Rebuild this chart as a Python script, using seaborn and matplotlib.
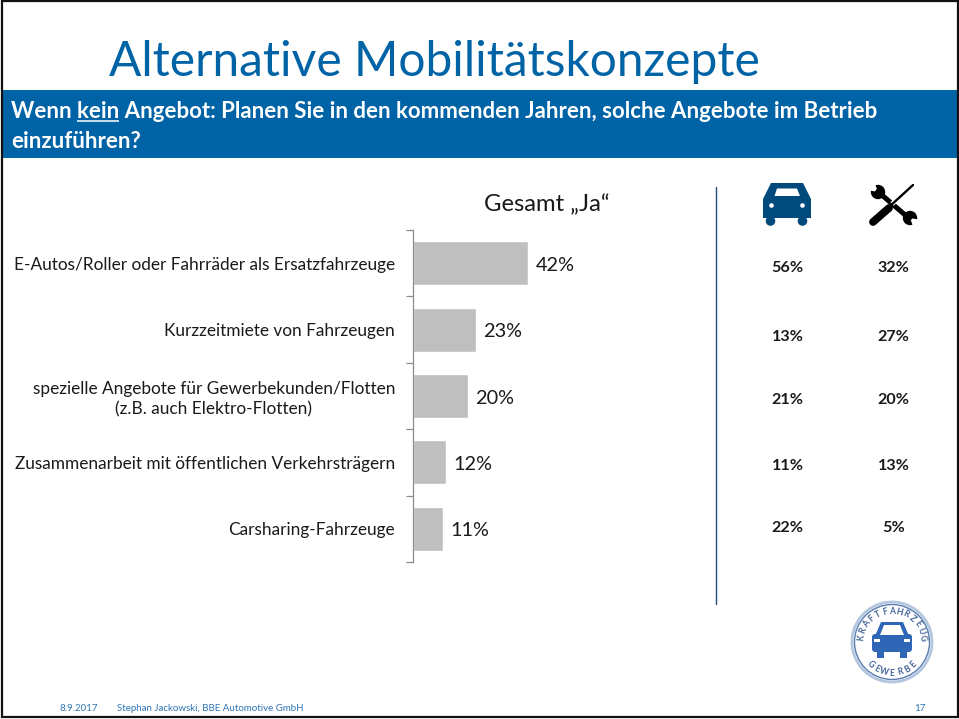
import numpy as np
import pandas as pd
import matplotlib
matplotlib.use("Agg")
import matplotlib.pyplot as plt
from matplotlib.patches import Circle, Polygon, Rectangle, FancyBboxPatch
import seaborn as sns

sns.set_theme(style="white")
plt.rcParams["font.family"] = ["Lato", "DejaVu Sans"]

konzepte = [
    "E-Autos/Roller oder Fahrräder als Ersatzfahrzeuge",
    "Kurzzeitmiete von Fahrzeugen",
    "spezielle Angebote für Gewerbekunden/Flotten\n(z.B. auch Elektro-Flotten)",
    "Zusammenarbeit mit öffentlichen Verkehrsträgern",
    "Carsharing-Fahrzeuge",
]
gesamt = [42, 23, 20, 12, 11]
autohaus = [56, 13, 21, 11, 22]
werkstatt = [32, 27, 20, 13, 5]

BLAU = "#0063A6"
W, H = 959, 719
KOPF = 16.0

df = pd.DataFrame({"konzept": konzepte, "gesamt": gesamt})

fig = plt.figure(figsize=(W / 100, H / 100), dpi=100, facecolor="white")

# Hintergrund-Achse in Pixeln (y nach unten)
bg = fig.add_axes([0, 0, 1, 1])
bg.set_xlim(0, W)
bg.set_ylim(H, 0)
bg.axis("off")

# Balken
left, top, right, bottom = 412.5, 230, 650, 562
ax = fig.add_axes([left / W, 1 - bottom / H, (right - left) / W, (bottom - top) / H])
ax.patch.set_alpha(0)
sns.barplot(data=df, y="konzept", x="gesamt", color="#BFBFBF", saturation=1, width=0.665, ax=ax)
ax.set_xlim(0, (right - left) / 2.75)
ax.set_ylim(4.5, -0.5)
ax.set_xlabel("")
ax.set_ylabel("")
ax.set_xticks([])
sns.despine(ax=ax, top=True, right=True, bottom=True)
ax.spines["left"].set_color("#8C8C8C")
ax.spines["left"].set_linewidth(0.9)
ax.set_yticks(np.arange(-0.5, 5, 1))
ax.set_yticklabels([])
ax.set_yticks(range(5), labels=konzepte, minor=True, fontsize=12.4, color="#1a1a1a",
              multialignment="center", linespacing=1.3)
ax.tick_params(axis="y", which="major", length=5, width=0.9, color="#8C8C8C", left=True)
ax.tick_params(axis="y", which="minor", length=0, pad=12.5, left=False)
for t in ax.bar_label(ax.containers[0], fmt="%d%%", padding=6, fontsize=14.3, color="#1a1a1a"):
    t.xyann = (5.5, -1.5)

# Rahmen, Titel, Kopfbalken
bg.add_patch(Rectangle((3, 90), W - 3, 68, color=BLAU, lw=0))
bg.add_patch(Rectangle((2, 1), W - 3, H - 3, fill=False, ec="#111111", lw=1.6))
bg.text(109, 62, "Alternative Mobilitätskonzepte", fontsize=34.5, color=BLAU, va="center", ha="left")

zeile1 = "Wenn kein Angebot: Planen Sie in den kommenden Jahren, solche Angebote im Betrieb"
bg.text(11, 111, zeile1, fontsize=KOPF, fontweight="bold", color="white", va="center")
bg.text(11, 141, "einzuführen?", fontsize=KOPF, fontweight="bold", color="white", va="center")

# Unterstreichung von "kein"
fig.canvas.draw()
rend = fig.canvas.get_renderer()
def breite(s):
    tmp = bg.text(0, 0, s, fontsize=KOPF, fontweight="bold")
    b = tmp.get_window_extent(rend).width
    tmp.remove()
    return b
x0 = 11 + breite("Wenn ")
x1 = 11 + breite("Wenn kein")
bg.plot([x0, x1], [121, 121], color="white", lw=1.1, solid_capstyle="butt")

bg.text(547, 205, "Gesamt „Ja“", fontsize=17.2, color="#1a1a1a", ha="center", va="center")
bg.plot([715.5, 715.5], [187, 604], color="#1F4F78", lw=1.0)

# Werte rechts
zeilen_y = [268, 337, 400, 466, 528]
for y, a, b in zip(zeilen_y, autohaus, werkstatt):
    bg.text(787.5, y, f"{a}%", fontsize=11.6, fontweight="bold", color="#1a1a1a", ha="center", va="center")
    bg.text(893.5, y, f"{b}%", fontsize=11.6, fontweight="bold", color="#1a1a1a", ha="center", va="center")

# Auto-Symbol
AUTO = "#004A7C"
bg.add_patch(Polygon([(763, 199), (771, 183), (803, 183), (811, 199), (811, 218), (763, 218)],
                     closed=True, color=AUTO, lw=0))
bg.add_patch(Circle((770.5, 221), 4.8, color=AUTO, lw=0))
bg.add_patch(Circle((802.5, 221), 4.8, color=AUTO, lw=0))
bg.add_patch(Polygon([(774.5, 196), (777, 188.5), (797, 188.5), (800, 196)], closed=True, color="white", lw=0))
bg.add_patch(Circle((771.5, 205.5), 2.3, color="white", lw=0))
bg.add_patch(Circle((802.5, 205.5), 2.3, color="white", lw=0))

# Werkzeug-Symbol
bg.plot([876, 911], [190, 220], color="black", lw=3.6, solid_capstyle="butt")
for cx, cy, winkel in [(878, 192, 140), (910, 218, -40)]:
    bg.add_patch(Circle((cx, cy), 7.2, color="black", lw=0))
    r = np.radians(winkel)
    n = np.radians(30)
    bg.add_patch(Polygon([(cx, cy),
                          (cx + 12 * np.cos(r - n), cy + 12 * np.sin(r - n) * -1),
                          (cx + 12 * np.cos(r + n), cy + 12 * np.sin(r + n) * -1)],
                         closed=True, color="white", lw=0))
bg.plot([892, 913], [204, 185], color="white", lw=3.4, solid_capstyle="butt")
bg.plot([889, 913], [207, 185], color="black", lw=1.7, solid_capstyle="round")
bg.plot([873, 889], [222, 208], color="black", lw=5.6, solid_capstyle="round")

# Logo
lx, ly = 892, 642
bg.add_patch(Circle((lx, ly), 40, fc="white", ec="#B4C6DE", lw=2.0))
bg.add_patch(Circle((lx, ly), 37.5, fc="white", ec="#5A7DB0", lw=1.0))
bg.add_patch(FancyBboxPatch((lx - 20, ly - 8), 40, 18, boxstyle="round,pad=0,rounding_size=3", fc="#2F66B5", lw=0))
bg.add_patch(Polygon([(lx - 17, ly - 6), (lx - 11, ly - 20), (lx + 11, ly - 20), (lx + 17, ly - 6)],
                     closed=True, fc="#2F66B5", lw=0))
bg.add_patch(Polygon([(lx - 12, ly - 7), (lx - 8, ly - 17), (lx + 8, ly - 17), (lx + 12, ly - 7)],
                     closed=True, fc="white", lw=0))
bg.add_patch(Rectangle((lx - 15, ly + 9), 7, 7, fc="#2F66B5", lw=0))
bg.add_patch(Rectangle((lx + 8, ly + 9), 7, 7, fc="#2F66B5", lw=0))
bg.add_patch(Rectangle((lx - 18, ly - 3), 6, 2.5, fc="white", lw=0))
bg.add_patch(Rectangle((lx + 12, ly - 3), 6, 2.5, fc="white", lw=0))

def rund(text, start, ende, radius, unten=False):
    for ch, g in zip(text, np.linspace(start, ende, len(text))):
        r = np.radians(g)
        rot = g - 90 if not unten else g + 90
        bg.text(lx + radius * np.cos(r), ly - radius * np.sin(r), ch, fontsize=6.2, fontweight="bold",
                color="#46659A", ha="center", va="center", rotation=rot)
rund("KRAFTFAHRZEUG", 172, 8, 31)
rund("GEWERBE", 226, 314, 31, unten=True)

# Fußzeile
FUSS = "#2E75B6"
bg.text(59, 708.5, "8.9.2017", fontsize=7.0, color=FUSS, va="center")
bg.text(117, 708.5, "Stephan Jackowski, BBE Automotive GmbH", fontsize=7.0, color=FUSS, va="center")
bg.text(920, 708.5, "17", fontsize=7.0, color=FUSS, va="center", ha="center")

fig.savefig("out.png", dpi=100)
